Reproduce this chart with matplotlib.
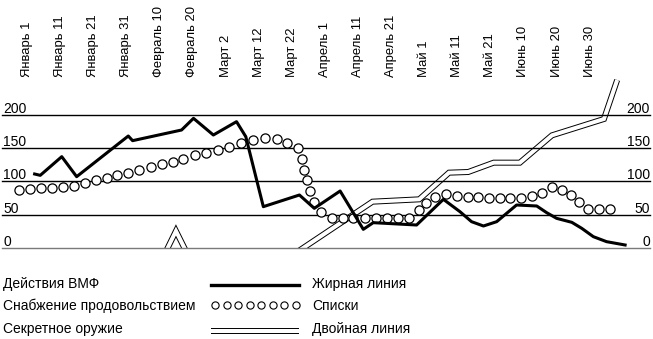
import matplotlib
matplotlib.use("Agg")
import matplotlib.pyplot as plt
import matplotlib.transforms as mtransforms

plt.rcParams['font.family'] = ['Liberation Sans', 'DejaVu Sans']

# Date labels along the top (evenly spaced categories)
date_labels = ['Январь 1', 'Январь 11', 'Январь 21', 'Январь 31', 'Февраль 10',
               'Февраль 20', 'Март 2', 'Март 12', 'Март 22', 'Апрель 1',
               'Апрель 11', 'Апрель 21', 'Май 1', 'Май 11', 'Май 21',
               'Июнь 10', 'Июнь 20', 'Июнь 30']
grid_values = [0, 50, 100, 150, 200]

# Действия ВМФ (bold line), x in label-index units
navy_x = [0.23, 0.4, 1.05, 1.5, 3.06, 3.19, 4.67, 5.03, 5.63, 6.33, 6.61, 7.14,
          8.23, 8.68, 9.46, 10.16, 10.46, 11.77, 12.58, 13.08, 13.43, 13.79,
          14.19, 14.49, 14.79, 15.4, 15.7, 16.0, 16.46, 16.76, 17.11, 17.51, 18.07]
navy_y = [111, 109, 137, 107, 168, 161, 177, 194.5, 169.5, 189.5, 167, 62,
          79.5, 59.5, 85.5, 28, 38, 34.5, 73, 54.5, 39.5, 33,
          39.5, 52, 64.5, 63, 53, 44.5, 38.5, 29.5, 17, 9.5, 4.5]

# Снабжение продовольствием (circles)
supply_x = [-0.23, 0.09, 0.41, 0.75, 1.08, 1.42, 1.74, 2.08, 2.41, 2.73, 3.06,
            3.39, 3.74, 4.07, 4.4, 4.72, 5.08, 5.41, 5.76, 6.11, 6.46, 6.82,
            7.19, 7.54, 7.86, 8.18, 8.3, 8.38, 8.47, 8.55, 8.67, 8.87, 9.2,
            9.54, 9.86, 10.21, 10.54, 10.87, 11.22, 11.55, 11.84, 12.05, 12.33,
            12.66, 12.98, 13.31, 13.63, 13.97, 14.29, 14.59, 14.92, 15.25,
            15.55, 15.85, 16.15, 16.42, 16.68, 16.96, 17.29, 17.61]
supply_y = [87, 88.5, 89.5, 90, 91.5, 93, 98, 102, 105.5, 109.5, 113,
            117, 121, 125.5, 129, 134, 139, 143, 147.5, 152, 157, 162,
            164.5, 163, 158, 150, 133.5, 117, 102, 86, 68.5, 53.5, 44.5,
            44.5, 44.5, 44.5, 44.5, 44.5, 44.5, 44.5, 57, 68, 76,
            81, 78, 76, 76, 74.5, 74.5, 74.5, 74.5, 78,
            83, 92, 87, 79.5, 69.5, 58, 58, 58]

# Секретное оружие (double line)
secret_x = [8.07, 10.44, 11.85, 12.75, 13.33, 14.1, 14.89, 15.86, 17.43, 17.83]
secret_y = [-9, 69.5, 73, 113, 114, 128, 128, 169, 193.5, 252]
caret_x = [4.19, 4.5, 4.815]
caret_y = [-6, 25.5, -6]

legend_names = ['Действия ВМФ', 'Снабжение продовольствием', 'Секретное оружие']
legend_desc = ['Жирная линия', 'Списки', 'Двойная линия']

W, H = 653, 339
FS = 10


def double_line(ax, x, y, **kw):
    ax.plot(x, y, color='black', lw=4.3, solid_joinstyle='miter',
            solid_capstyle='butt', zorder=2, **kw)
    ax.plot(x, y, color='white', lw=2.9, solid_joinstyle='miter',
            solid_capstyle='butt', zorder=2.1, **kw)


def main():
    fig = plt.figure(figsize=(W / 100, H / 100), dpi=100)
    base_px = 248
    ax = fig.add_axes([0, (H - base_px) / H, 1, base_px / H])
    step = 33.1
    ax.set_xlim(-27 / step, (W - 27) / step)
    ax.set_ylim(0, base_px * 1.5)
    ax.axis('off')

    # grid lines and value labels on both sides
    yx = mtransforms.blended_transform_factory(ax.transAxes, ax.transData)
    for v in grid_values:
        color = '#7a7a7a' if v == 0 else 'black'
        ax.axhline(v, xmin=2 / W, xmax=650 / W, color=color, lw=1.0,
                   clip_on=False, zorder=3)
        ax.text(3 / W, v + 3, str(v), transform=yx, ha='left', va='baseline',
                fontsize=FS)
        ax.text(650 / W, v + 3, str(v), transform=yx, ha='right', va='baseline',
                fontsize=FS)

    # date labels
    xf = mtransforms.blended_transform_factory(ax.transData, fig.transFigure)
    for i, lab in enumerate(date_labels):
        ax.text(i, 1 - 77 / H, lab, transform=xf, rotation=90, ha='center',
                va='bottom', fontsize=9.4)

    double_line(ax, secret_x, secret_y)
    double_line(ax, caret_x, caret_y)
    ax.plot(supply_x, supply_y, ls='none', marker='o', ms=6.6, mfc='white',
            mec='black', mew=0.9, zorder=4)
    ax.plot(navy_x, navy_y, color='black', lw=2.2, zorder=5)

    # legend block
    lax = fig.add_axes([0, 0, 1, (H - base_px) / H])
    lax.set_xlim(0, W)
    lax.set_ylim(H, base_px)
    lax.axis('off')
    rows = [284, 306, 328.5]
    for name, desc, y in zip(legend_names, legend_desc, rows):
        lax.text(3, y, name, ha='left', va='center', fontsize=FS)
        lax.text(312, y, desc, ha='left', va='center', fontsize=FS)
    lax.plot([211, 299], [rows[0] + 1, rows[0] + 1], color='black', lw=2.4)
    lax.plot([215 + k * 11.5 for k in range(8)], [rows[1] - 1.5] * 8, ls='none',
             marker='o', ms=5.2, mfc='white', mec='black', mew=0.8)
    double_line(lax, [211, 299], [rows[2] + 2, rows[2] + 2])

    fig.savefig('out.png', dpi=100)


if __name__ == "__main__":
    main()
